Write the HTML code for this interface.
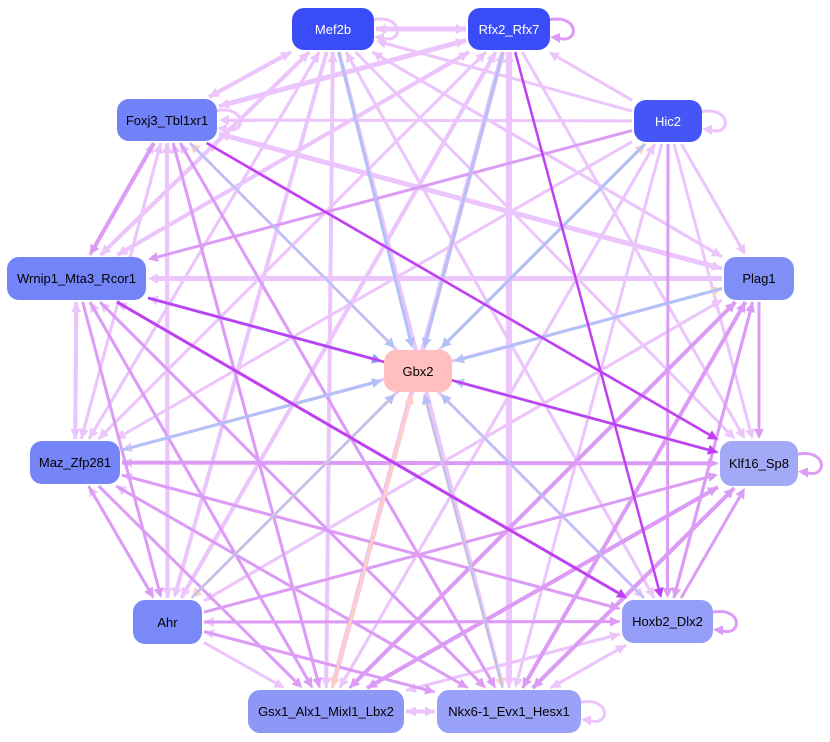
<!DOCTYPE html>
<html><head><meta charset="utf-8">
<style>
html,body{margin:0;padding:0;background:#fff;width:830px;height:742px;overflow:hidden}
#wrap{position:relative;width:830px;height:742px}
svg{position:absolute;left:0;top:0}
.n{position:absolute;border-radius:12px;display:flex;align-items:center;justify-content:center;font-family:"Liberation Sans",sans-serif;font-size:13px;color:#000}
.w{color:#fff}
</style></head><body>
<div id="wrap">
<svg id="s" width="830" height="742" viewBox="0 0 830 742"></svg>
<div class="n w" style="left:292px;top:8px;width:82px;height:42px;background:#3a4cf8">Mef2b</div>
<div class="n w" style="left:468px;top:8px;width:82px;height:42px;background:#3a4cf8">Rfx2_Rfx7</div>
<div class="n w" style="left:634px;top:100px;width:68px;height:42px;background:#4556f6">Hic2</div>
<div class="n" style="left:117px;top:99px;width:100px;height:42px;background:#7282f8">Foxj3_Tbl1xr1</div>
<div class="n" style="left:7px;top:257px;width:139px;height:43px;background:#7383f8">Wrnip1_Mta3_Rcor1</div>
<div class="n" style="left:724px;top:257px;width:70px;height:43px;background:#808ff8">Plag1</div>
<div class="n" style="left:384px;top:350px;width:68px;height:42px;background:#ffbfbf">Gbx2</div>
<div class="n" style="left:30px;top:441px;width:90px;height:43px;background:#7585f8">Maz_Zfp281</div>
<div class="n" style="left:720px;top:441px;width:78px;height:45px;background:#a2aaf8">Klf16_Sp8</div>
<div class="n" style="left:133px;top:600px;width:69px;height:44px;background:#7a89f8">Ahr</div>
<div class="n" style="left:622px;top:600px;width:91px;height:43px;background:#959ef8">Hoxb2_Dlx2</div>
<div class="n" style="left:248px;top:690px;width:156px;height:43px;background:#8c97f6">Gsx1_Alx1_Mixl1_Lbx2</div>
<div class="n" style="left:437px;top:690px;width:144px;height:43px;background:#99a2f8">Nkx6-1_Evx1_Hesx1</div>
</div>
<script>
var N={
Mef:[292,8,82,42],Rfx:[468,8,82,42],Hic:[634,100,68,42],Fox:[117,99,100,42],
Wrn:[7,257,139,43],Pla:[724,257,70,43],Gbx:[384,350,68,42],Maz:[30,441,90,43],
Klf:[720,441,78,45],Ahr:[133,600,69,44],Hox:[622,600,91,43],Gsx:[248,690,156,43],Nkx:[437,690,144,43]};
var L='#ebc5fb',M='#dc9cf6',P='#bf40f2',B='#b4c0f8',B2='#8c9cf8',O='#ffcfc3';
var E=[
['Rfx','Mef',L,5],['Mef','Rfx',L,5],['Mef','Fox',L,4],['Mef','Wrn',L,4],['Mef','Maz',L,3],['Mef','Ahr',L,4],['Mef','Gsx',L,4],['Mef','Nkx',L,4],['Mef','Hox',L,3],['Mef','Klf',L,3],['Mef','Pla',L,3],['Mef','Gbx',B,3],
['Rfx','Fox',L,5],['Rfx','Wrn',L,4],['Rfx','Maz',L,3],['Rfx','Ahr',L,4],['Rfx','Gsx',L,5],['Rfx','Nkx',L,6],['Rfx','Hox',P,2.5],['Rfx','Klf',L,3],['Rfx','Gbx',B,3],
['Hic','Rfx',L,3],['Hic','Mef',L,3],['Hic','Fox',L,3],['Hic','Wrn',M,3],['Hic','Pla',L,3],['Hic','Klf',L,3],['Hic','Hox',M,3],['Hic','Nkx',L,3],['Hic','Gsx',L,3],['Hic','Ahr',L,3],['Hic','Gbx',B,3],['Hic','Maz',L,3],
['Fox','Mef',L,4],['Fox','Rfx',L,4],['Fox','Wrn',M,4],['Fox','Klf',P,2.5],['Fox','Pla',L,5],['Fox','Gsx',M,3],['Fox','Nkx',M,3],['Fox','Ahr',L,4],['Fox','Hox',L,3],['Fox','Gbx',B,2],['Gbx','Fox',O,2],['Fox','Maz',L,3],
['Wrn','Fox',L,4],['Wrn','Mef',L,4],['Wrn','Rfx',L,4],['Wrn','Maz',L,4],['Maz','Wrn',L,4],['Wrn','Klf',P,2.5],['Wrn','Hox',P,3],['Wrn','Gbx',B2,3],['Wrn','Gsx',M,3],['Wrn','Nkx',M,3],['Wrn','Ahr',M,3],['Pla','Wrn',L,5],
['Pla','Gbx',B,3],['Gbx','Pla',O,2],['Pla','Klf',M,3],['Pla','Hox',M,3],['Pla','Nkx',M,4],['Pla','Gsx',M,4],['Pla','Ahr',L,3],['Pla','Maz',L,3],['Pla','Fox',L,4],['Pla','Mef',L,3],
['Klf','Gbx',B,3],['Gbx','Klf',O,3],['Maz','Klf',M,4],['Klf','Maz',L,3],['Klf','Wrn',L,3],['Klf','Fox',L,3],['Klf','Gsx',M,4],['Klf','Nkx',M,4],['Ahr','Klf',M,3],
['Maz','Gbx',B,3],['Maz','Hox',M,3],['Maz','Nkx',M,3],['Maz','Gsx',M,3],['Maz','Ahr',M,3],['Ahr','Maz',L,3],['Maz','Fox',L,3],['Maz','Rfx',L,3],['Maz','Mef',L,3],
['Ahr','Gbx',B,2],['Gbx','Ahr',O,3],['Ahr','Hox',M,3],['Hox','Ahr',L,3],['Ahr','Nkx',M,3],['Ahr','Gsx',L,3],['Ahr','Fox',L,4],['Ahr','Rfx',L,4],['Ahr','Pla',L,3],
['Hox','Gbx',B,2],['Hox','Gsx',L,3],['Hox','Nkx',L,3],['Hox','Klf',M,3],['Hox','Pla',M,3],['Hox','Wrn',L,3],['Hox','Fox',L,3],['Hox','Mef',L,3],['Hox','Maz',L,3],
['Gsx','Gbx',O,3],['Gbx','Gsx',O,2],['Gsx','Nkx',L,4],['Nkx','Gsx',L,4],['Gsx','Klf',M,4],['Gsx','Pla',M,3],['Gsx','Wrn',L,3],['Gsx','Fox',L,3],['Gsx','Mef',L,3],['Gsx','Rfx',L,3],['Gsx','Hic',L,3],['Gsx','Hox',L,3],
['Nkx','Gbx',B,2],['Gbx','Nkx',O,3],['Nkx','Klf',M,4],['Nkx','Pla',M,3],['Nkx','Hox',L,3],['Nkx','Fox',L,3],['Nkx','Wrn',L,3],['Nkx','Rfx',L,3],['Nkx','Ahr',L,3],['Nkx','Maz',L,3],
['Rfx','Gbx',O,3],['Gbx','Hic',O,2],['Hic','Gbx',B,3]
];
var pr={};pr[L]=0;pr[M]=1;pr[O]=2;pr[B]=3;pr[B2]=3;pr[P]=4;
E.sort(function(a,b){return pr[a[2]]-pr[b[2]];});
var s=document.getElementById('s'),h='';
function ctr(k){var r=N[k];return [r[0]+r[2]/2,r[1]+r[3]/2];}
function clip(k,dx,dy){var r=N[k],hw=r[2]/2+2,hh=r[3]/2+2;return Math.min(Math.abs(dx)>0?hw/Math.abs(dx):1e9,Math.abs(dy)>0?hh/Math.abs(dy):1e9);}
E.forEach(function(e){var a=ctr(e[0]),b=ctr(e[1]),dx=b[0]-a[0],dy=b[1]-a[1],len=Math.hypot(dx,dy);
var t0=clip(e[0],dx,dy),t1=clip(e[1],dx,dy);
var x1=a[0]+dx*t0,y1=a[1]+dy*t0,x2=b[0]-dx*t1,y2=b[1]-dy*t1;
var ux=dx/len,uy=dy/len,al=10,aw=5;
var bx=x2-ux*al,by=y2-uy*al;
h+='<line x1="'+x1.toFixed(1)+'" y1="'+y1.toFixed(1)+'" x2="'+bx.toFixed(1)+'" y2="'+by.toFixed(1)+'" stroke="'+e[2]+'" stroke-width="'+e[3]+'"/>';
h+='<polygon points="'+x2.toFixed(1)+','+y2.toFixed(1)+' '+(bx-uy*aw).toFixed(1)+','+(by+ux*aw).toFixed(1)+' '+(bx+uy*aw).toFixed(1)+','+(by-ux*aw).toFixed(1)+'" fill="'+e[2]+'"/>';});
[['Mef',L],['Rfx',M],['Hic',L],['Klf',M],['Hox',M],['Nkx',L],['Fox',L]].forEach(function(l){var r=N[l[0]],x=r[0]+r[2],y=r[1]+r[3]/2;
h+='<path d="M'+(x-2)+','+(y-9)+' C'+(x+30)+','+(y-16)+' '+(x+30)+','+(y+16)+' '+(x+8)+','+(y+9)+'" fill="none" stroke="'+l[1]+'" stroke-width="3"/>';
h+='<polygon points="'+x+','+(y+8)+' '+(x+10)+','+(y+4)+' '+(x+10)+','+(y+14)+'" fill="'+l[1]+'"/>';});
s.innerHTML=h;
</script>
</body></html>
